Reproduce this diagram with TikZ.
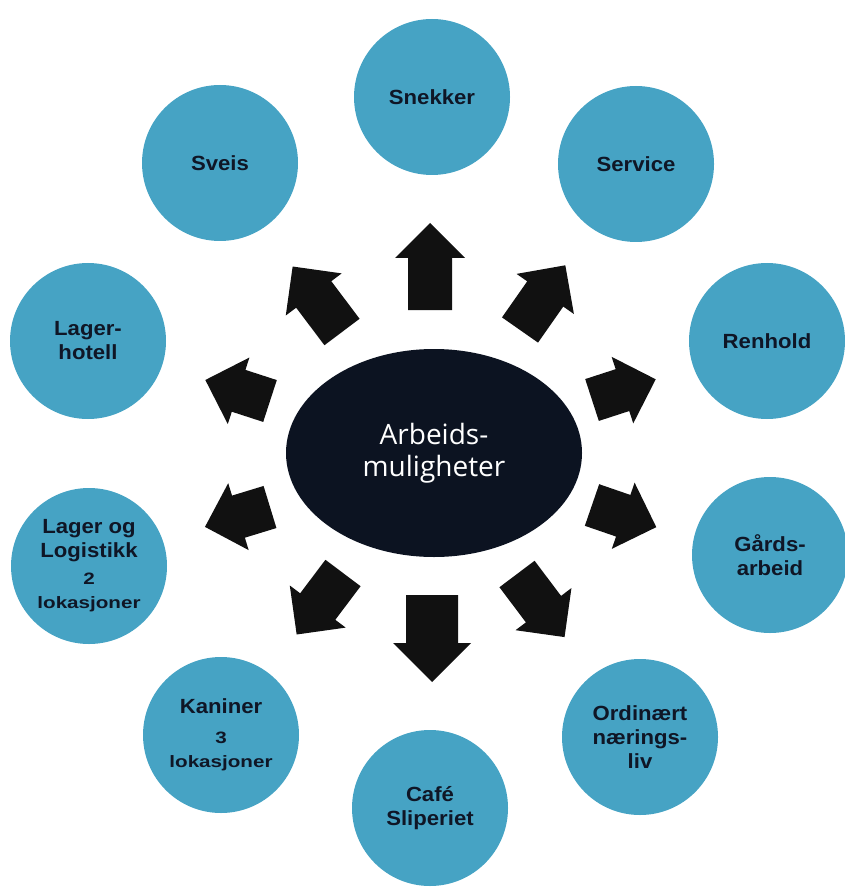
\documentclass[tikz,border=0pt]{standalone}
\usepackage{fontspec}
\setmainfont{Liberation Sans}
\newfontfamily\circfont[FakeStretch=1.08]{Liberation Sans}
\newfontfamily\smallfont[FakeStretch=1.25]{Liberation Sans}
\newfontfamily\hubfont{Open Sans}
\usetikzlibrary{shapes.geometric}
\definecolor{bubbleblue}{HTML}{46A3C4}
\definecolor{hubnavy}{HTML}{0C1321}
\definecolor{arrowblack}{HTML}{111111}
\definecolor{labelnavy}{HTML}{0F1626}
\newcommand{\smalltxt}[1]{{\smallfont\bfseries\fontsize{16.5}{20}\selectfont #1}}
% block arrow: tail x, tail y, angle, length, half shaft width
\newcommand{\blockarrow}[5]{%
  \fill[arrowblack,shift={(#1,#2)},rotate=#3]
    (0,-#5) -- ({#4-#5-13},-#5) -- ({#4-#5-13},{-#5-13}) -- (#4,0)
    -- ({#4-#5-13},{#5+13}) -- ({#4-#5-13},#5) -- (0,#5) -- cycle;}
\begin{document}
\begin{tikzpicture}[x=1pt,y=-1pt,
  main node/.style={circle,fill=bubbleblue,minimum size=156pt,inner sep=0pt,align=center,text=labelnavy,font=\circfont\bfseries\fontsize{20.5}{24}\selectfont},
  hub node/.style={ellipse,fill=hubnavy,minimum width=296pt,minimum height=208pt,inner sep=0pt,align=center,text=white,font=\hubfont\fontsize{28}{32}\selectfont}]
  	\useasboundingbox (0,0) rectangle (844,890);
  	
  	\node[hub node] at (434,453) (0) {Arbeids-\\muligheter};
  	
  	\node[main node] at (432,97) (1) {Snekker};
  	\node[main node] at (636,164) (2) {Service};
  	\node[main node] at (767,341) (3) {Renhold};
  	\node[main node] at (770,555) (4) {Gårds-\\arbeid};
  	\node[main node] at (640,737) (5) {Ordinært\\nærings-\\liv};
  	\node[main node] at (430,808) (6) {Café\\Sliperiet};
  	\node[main node] at (221,735) (7) {Kaniner\\[6pt]\smalltxt{3}\\\smalltxt{lokasjoner}};
  	\node[main node] at (89,566) (8) {Lager og\\Logistikk\\[3pt]\smalltxt{2}\\\smalltxt{lokasjoner}};
  	\node[main node] at (88,341) (9) {Lager-\\hotell};
  	\node[main node] at (220,163) (10) {Sveis};
  	
  	% arrows out of the hub
  	\blockarrow{430}{310}{90}{87}{22}
  	\blockarrow{520}{330}{55}{79}{22}
  	\blockarrow{592}{400}{18}{67}{22}
  	\blockarrow{592}{505}{-19}{68}{22}
  	\blockarrow{517}{574}{-53}{79}{22}
  	\blockarrow{432}{595}{-90}{87}{26}
  	\blockarrow{343}{573}{233}{77}{22}
  	\blockarrow{270}{507}{197}{68}{22}
  	\blockarrow{270}{401}{162}{68}{22}
  	\blockarrow{342}{332}{127}{82}{22}
\end{tikzpicture}
\end{document}
